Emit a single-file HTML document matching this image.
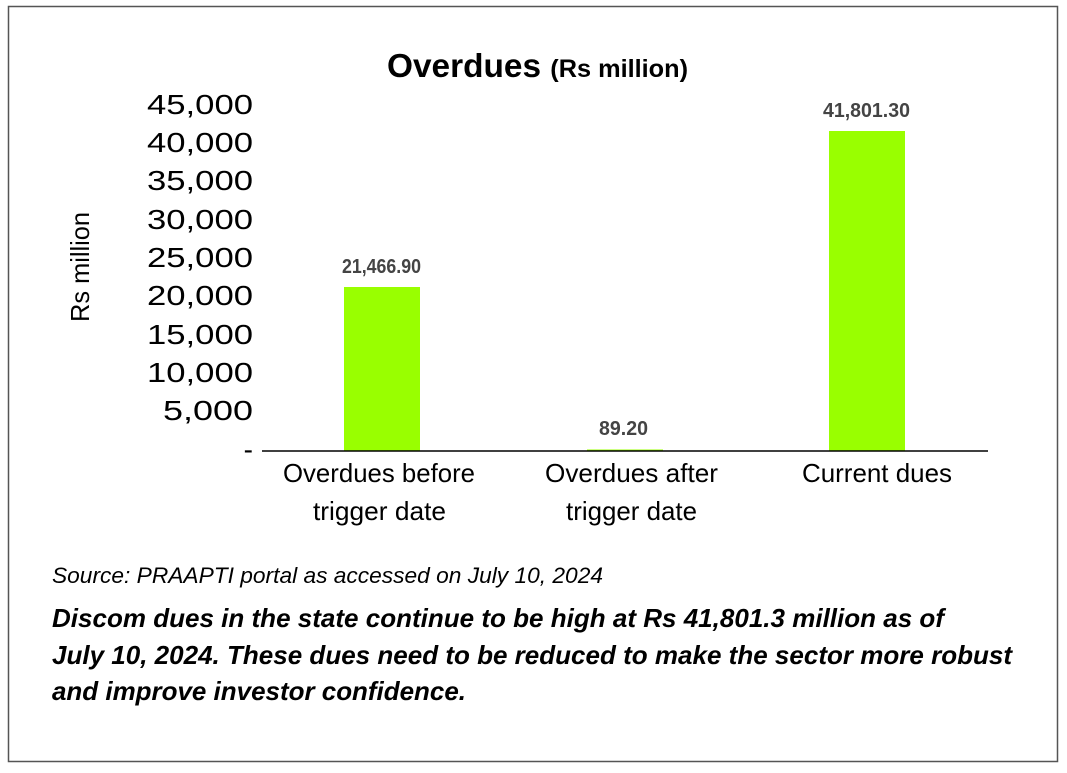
<!DOCTYPE html>
<html><head><style>
body{margin:0;background:#fff;}
svg text{font-family:"Liberation Sans Narrow","Liberation Sans",sans-serif;}
</style></head><body>
<svg width="1067" height="768" xmlns="http://www.w3.org/2000/svg">
<rect x="8.5" y="6.5" width="1049" height="755" fill="#fff" stroke="#555" stroke-width="1.5"/>
<text x="387" y="77" font-weight="bold" font-size="33" fill="#000" textLength="301" lengthAdjust="spacingAndGlyphs">Overdues <tspan font-size="25">(Rs million)</tspan></text>
<g font-size="28" fill="#000" text-anchor="end">
<text x="253" y="114" textLength="106" lengthAdjust="spacingAndGlyphs">45,000</text>
<text x="253" y="152" textLength="106" lengthAdjust="spacingAndGlyphs">40,000</text>
<text x="253" y="190" textLength="106" lengthAdjust="spacingAndGlyphs">35,000</text>
<text x="253" y="229" textLength="106" lengthAdjust="spacingAndGlyphs">30,000</text>
<text x="253" y="267" textLength="106" lengthAdjust="spacingAndGlyphs">25,000</text>
<text x="253" y="305" textLength="106" lengthAdjust="spacingAndGlyphs">20,000</text>
<text x="253" y="344" textLength="106" lengthAdjust="spacingAndGlyphs">15,000</text>
<text x="253" y="382" textLength="106" lengthAdjust="spacingAndGlyphs">10,000</text>
<text x="253" y="420" textLength="90" lengthAdjust="spacingAndGlyphs">5,000</text>
<text x="253" y="459">-</text>
</g>
<text transform="translate(89,267) rotate(-90)" text-anchor="middle" font-size="26" textLength="110" lengthAdjust="spacingAndGlyphs">Rs million</text>
<rect x="344" y="287" width="76" height="164" fill="#99ff00"/>
<rect x="587" y="449.5" width="76" height="1.5" fill="#99ff00"/>
<rect x="829" y="131" width="76" height="320" fill="#99ff00"/>
<line x1="262" y1="451" x2="988" y2="451" stroke="#000" stroke-width="1.5"/>
<g font-size="20" font-weight="bold" fill="#444">
<text x="342" y="273" textLength="79" lengthAdjust="spacingAndGlyphs">21,466.90</text>
<text x="599" y="435" textLength="49" lengthAdjust="spacingAndGlyphs">89.20</text>
<text x="823" y="117" textLength="87" lengthAdjust="spacingAndGlyphs">41,801.30</text>
</g>
<g font-size="26" fill="#000">
<text x="283" y="482" textLength="192" lengthAdjust="spacingAndGlyphs">Overdues before</text>
<text x="313" y="520" textLength="133" lengthAdjust="spacingAndGlyphs">trigger date</text>
<text x="545" y="482" textLength="173" lengthAdjust="spacingAndGlyphs">Overdues after</text>
<text x="566" y="520" textLength="131" lengthAdjust="spacingAndGlyphs">trigger date</text>
<text x="802" y="482" textLength="150" lengthAdjust="spacingAndGlyphs">Current dues</text>
</g>
<text x="52" y="583" font-size="22" font-style="italic" fill="#000" textLength="551" lengthAdjust="spacingAndGlyphs">Source: PRAAPTI portal as accessed on July 10, 2024</text>
<g font-size="26" font-style="italic" font-weight="bold" fill="#000">
<text x="52" y="627" textLength="892" lengthAdjust="spacingAndGlyphs">Discom dues in the state continue to be high at Rs 41,801.3 million as of</text>
<text x="52" y="664" textLength="960" lengthAdjust="spacingAndGlyphs">July 10, 2024. These dues need to be reduced to make the sector more robust</text>
<text x="52" y="700" textLength="414" lengthAdjust="spacingAndGlyphs">and improve investor confidence.</text>
</g>
</svg>
</body></html>
